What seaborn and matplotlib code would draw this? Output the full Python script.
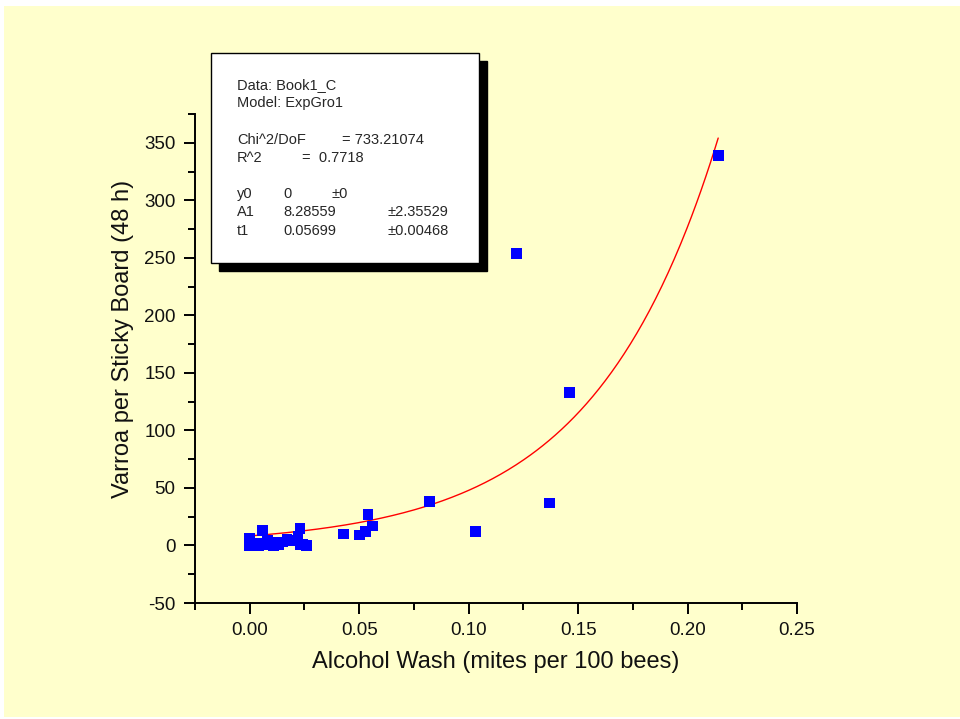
import numpy as np
import pandas as pd
import seaborn as sns
import matplotlib.pyplot as plt
from matplotlib.patches import Rectangle
from matplotlib.ticker import MultipleLocator

# alcohol wash (mites per 100 bees) vs sticky board counts
wash = [0.000, 0.000, 0.000, 0.001, 0.002, 0.003, 0.004, 0.005, 0.006, 0.007,
        0.008, 0.009, 0.010, 0.011, 0.012, 0.013, 0.015, 0.017, 0.019, 0.022,
        0.023, 0.023, 0.024, 0.026, 0.043, 0.050, 0.053, 0.054, 0.056, 0.082,
        0.103, 0.122, 0.137, 0.146, 0.214]
board = [0, 3, 6, 1, 0, 2, 0, 1, 13, 2,
         4, 1, 3, 0, 2, 1, 3, 5, 4, 8,
         15, 1, 1, 0, 10, 9, 12, 27, 17, 38,
         12, 254, 37, 133, 339]

# ExpGro1 fit parameters reported in the box
y0 = 0.0
A1 = 8.28559
t1 = 0.05699

box_lines = [
    ("Data: Book1_C", None, None),
    ("Model: ExpGro1", None, None),
    ("", None, None),
    ("Chi^2/DoF", "= 733.21074", None),
    ("R^2", "=  0.7718", None),
    ("", None, None),
    ("y0", "0", "\u00b10"),
    ("A1", "8.28559", "\u00b12.35529"),
    ("t1", "0.05699", "\u00b10.00468"),
]

df = pd.DataFrame({"wash": wash, "board": board})
xf = np.linspace(min(wash), max(wash), 300)
fit = pd.DataFrame({"wash": xf, "board": y0 + A1 * np.exp(xf / t1)})

sns.set_style("ticks")
plt.rcParams["font.family"] = ["Liberation Sans", "DejaVu Sans"]
plt.rcParams["axes.unicode_minus"] = False

W, H = 960, 719
fig = plt.figure(figsize=(9.6, 7.19), dpi=100, facecolor="white")
fig.patches.append(Rectangle((4 / W, 1 - 717 / H), 956 / W, 711 / H,
                             transform=fig.transFigure, facecolor="#ffffcc",
                             edgecolor="none", zorder=-10))

ax = fig.add_axes([195 / W, 1 - 603 / H, 602 / W, 489 / H])
ax.set_facecolor("none")

sns.lineplot(data=fit, x="wash", y="board", color="red", linewidth=1.0, ax=ax)
sns.scatterplot(data=df, x="wash", y="board", marker="s", s=60, color="#0000ff",
                edgecolor="none", ax=ax, zorder=3)

ax.set_xlim(-0.025, 0.25)
ax.set_ylim(-50, 375)
ax.xaxis.set_major_locator(MultipleLocator(0.05))
ax.xaxis.set_minor_locator(MultipleLocator(0.025))
ax.yaxis.set_major_locator(MultipleLocator(50))
ax.yaxis.set_minor_locator(MultipleLocator(25))
ax.set_xticks([0, 0.05, 0.1, 0.15, 0.2, 0.25])
ax.set_xticklabels(["0.00", "0.05", "0.10", "0.15", "0.20", "0.25"])
ax.set_yticks([-50, 0, 50, 100, 150, 200, 250, 300, 350])

sns.despine(ax=ax)
for s in ["left", "bottom"]:
    ax.spines[s].set_linewidth(1.4)
    ax.spines[s].set_color("black")
ax.tick_params(which="major", length=8, width=1.4, color="black",
               labelsize=13.5, labelcolor="#111111", pad=6)
ax.tick_params(which="minor", length=5, width=1.4, color="black")

ax.set_xlabel("Alcohol Wash (mites per 100 bees)", fontsize=17, color="#111111")
ax.set_ylabel("Varroa per Sticky Board (48 h)", fontsize=17, color="#111111")
ax.xaxis.set_label_coords(0.5, -0.098)
ax.yaxis.set_label_coords(-0.101, 0.54)

# fit parameters box with drop shadow
bl, bt, br, bb = 211, 53, 479, 263
fig.patches.append(Rectangle(((bl + 8) / W, 1 - (bb + 8) / H), (br - bl) / W,
                             (bb - bt) / H, transform=fig.transFigure,
                             facecolor="black", edgecolor="black", zorder=5))
fig.patches.append(Rectangle((bl / W, 1 - bb / H), (br - bl) / W, (bb - bt) / H,
                             transform=fig.transFigure, facecolor="white",
                             edgecolor="black", linewidth=1.0, zorder=6))

col2 = {"Chi^2/DoF": 342, "R^2": 302}
for i, (a, b, c) in enumerate(box_lines):
    yp = 1 - (85 + 18.2 * i) / H
    if a:
        fig.text(237 / W, yp, a, fontsize=10.5, va="center", zorder=7)
    if b:
        xb = col2.get(a, 283)
        fig.text(xb / W, yp, b, fontsize=10.5, va="center", zorder=7)
    if c:
        xc = 332 if a == "y0" else 388
        fig.text(xc / W, yp, c, fontsize=10.5, va="center", zorder=7)

fig.savefig("out.png", dpi=100, facecolor=fig.get_facecolor())
